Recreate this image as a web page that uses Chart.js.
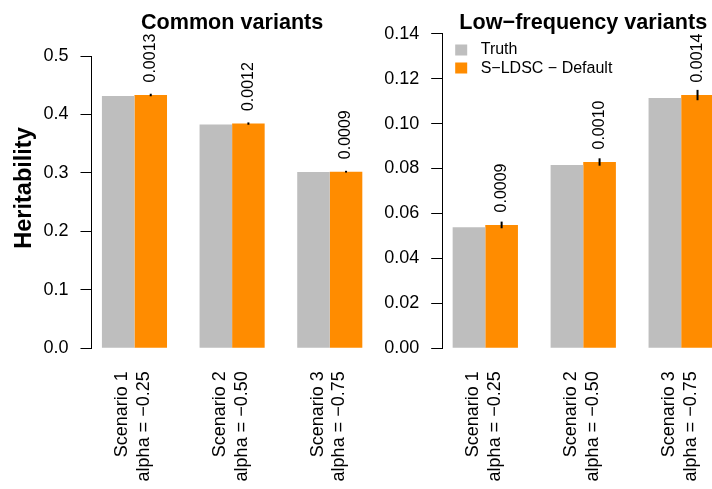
<!DOCTYPE html>
<html>
<head>
<meta charset="utf-8">
<script src="https://cdn.jsdelivr.net/npm/chart.js@4/dist/chart.umd.min.js"></script>
<style>
  html, body { margin: 0; padding: 0; background: #fff; }
  #wrap { position: relative; width: 712px; height: 489px; overflow: hidden; background: #fff; }
  canvas { position: absolute; top: 0; }
</style>
</head>
<body>
<div id="wrap">
  <canvas id="common" width="400" height="489" style="left:0px"></canvas>
  <canvas id="lowfreq" width="400" height="489" style="left:360px"></canvas>
</div>
<script>
// Scenario labels (two lines each) and series names
const scenarios = [
  ['Scenario 1', 'alpha = \u22120.25'],
  ['Scenario 2', 'alpha = \u22120.50'],
  ['Scenario 3', 'alpha = \u22120.75']
];
const seriesNames = ['Truth', 'S\u2212LDSC \u2212 Default'];

// Common variants: true heritability, S-LDSC estimate and its standard error
const commonTruth    = [0.4316, 0.3827, 0.3016];
const commonEstimate = [0.4333, 0.3844, 0.3021];
const commonSE       = [0.0013, 0.0012, 0.0009];

// Low-frequency variants
const lowTruth    = [0.0539, 0.0816, 0.1114];
const lowEstimate = [0.0549, 0.0829, 0.1127];
const lowSE       = [0.0009, 0.0010, 0.0014];

// Axis ticks
const commonTicks      = [0, 0.1, 0.2, 0.3, 0.4, 0.5];
const commonTickLabels = ['0.0', '0.1', '0.2', '0.3', '0.4', '0.5'];
const lowTicks         = [0, 0.02, 0.04, 0.06, 0.08, 0.10, 0.12, 0.14];
const lowTickLabels    = ['0.00', '0.02', '0.04', '0.06', '0.08', '0.10', '0.12', '0.14'];

const GREY = '#BEBEBE';
const ORANGE = '#FF8C00';
const FONT = '"Liberation Sans", Arial, Helvetica, sans-serif';
const Z = 1.645;            // half-width of the interval, in standard errors
const CANVAS_H = 489;
const AXIS_BOTTOM = 348.3;  // pixel row of the zero line

Chart.defaults.font.family = FONT;
Chart.defaults.color = '#000';

// barplot-style layout: each group = one unit of space + two unit-wide bars
const groupCenter = i => 2 + 3 * i;

const panelExtras = {
  id: 'panelExtras',
  afterDatasetsDraw(chart, args, o) {
    const ctx = chart.ctx;
    const ys = chart.scales.y;
    const meta = chart.getDatasetMeta(1);
    const area = chart.chartArea;
    ctx.save();
    // error bars and standard-error labels on the estimate bars
    o.estimate.forEach((est, i) => {
      const bar = meta.data[i];
      const se = o.se[i];
      ctx.strokeStyle = '#000';
      ctx.lineWidth = 2;
      ctx.lineCap = 'butt';
      ctx.beginPath();
      ctx.moveTo(bar.x, ys.getPixelForValue(est - Z * se));
      ctx.lineTo(bar.x, ys.getPixelForValue(est + Z * se));
      ctx.stroke();

      ctx.save();
      ctx.translate(bar.x, ys.getPixelForValue(est) - 12.5);
      ctx.rotate(-Math.PI / 2);
      ctx.font = '16px ' + FONT;
      ctx.fillStyle = '#000';
      ctx.textAlign = 'left';
      ctx.textBaseline = 'middle';
      ctx.fillText(se.toFixed(4), 0, 0);
      ctx.restore();
    });

    // panel title
    ctx.font = 'bold 21.6px ' + FONT;
    ctx.fillStyle = '#000';
    ctx.textAlign = 'center';
    ctx.textBaseline = 'alphabetic';
    ctx.fillText(o.title, (area.left + area.right) / 2, 28.5);

    // y-axis title
    if (o.yTitle) {
      ctx.save();
      ctx.translate(24.5, 188);
      ctx.rotate(-Math.PI / 2);
      ctx.font = 'bold 23.5px ' + FONT;
      ctx.textAlign = 'center';
      ctx.textBaseline = 'middle';
      ctx.fillText(o.yTitle, 0, 0);
      ctx.restore();
    }

    // legend
    if (o.legend) {
      const colors = [GREY, ORANGE];
      const rows = [50, 68];
      const textRows = [49.3, 68.7];
      ctx.font = '16px ' + FONT;
      ctx.textAlign = 'left';
      ctx.textBaseline = 'middle';
      seriesNames.forEach((name, k) => {
        ctx.fillStyle = colors[k];
        ctx.fillRect(area.left + 13, rows[k] - 5.5, 12, 11);
        ctx.fillStyle = '#000';
        ctx.fillText(name, area.left + 38.5, textRows[k]);
      });
    }
    ctx.restore();
  }
};

function makePanel(id, p) {
  return new Chart(document.getElementById(id), {
    type: 'bar',
    data: {
      datasets: [
        {
          label: seriesNames[0],
          data: p.truth.map((v, i) => ({ x: groupCenter(i), y: v })),
          backgroundColor: GREY,
          borderWidth: 0,
          categoryPercentage: 2 / 3,
          barPercentage: 1
        },
        {
          label: seriesNames[1],
          data: p.estimate.map((v, i) => ({ x: groupCenter(i), y: v })),
          backgroundColor: ORANGE,
          borderWidth: 0,
          categoryPercentage: 2 / 3,
          barPercentage: 1
        }
      ]
    },
    options: {
      responsive: false,
      animation: false,
      devicePixelRatio: 1,
      layout: { padding: { left: 0, right: p.padRight, top: p.padTop, bottom: 0 } },
      scales: {
        x: {
          type: 'linear',
          min: 0.68,
          max: 9.32,
          offset: false,
          grid: { display: false, drawTicks: false },
          border: { display: false },
          afterBuildTicks: s => { s.ticks = scenarios.map((_, i) => ({ value: groupCenter(i) })); },
          afterFit: s => { s.height = CANVAS_H - AXIS_BOTTOM; },
          ticks: {
            autoSkip: false,
            minRotation: 90,
            maxRotation: 90,
            padding: 23,
            labelOffset: -12,
            color: '#000',
            font: { size: 18, lineHeight: 1.2 },
            callback: (v, i) => scenarios[i]
          }
        },
        y: {
          min: 0,
          max: p.ticks[p.ticks.length - 1],
          afterBuildTicks: s => { s.ticks = p.ticks.map(v => ({ value: v })); },
          afterFit: s => { s.width = p.axisWidth; },
          grid: { drawOnChartArea: false, drawTicks: true, tickLength: 11, color: '#000', lineWidth: 1 },
          border: { display: true, color: '#000', width: 1 },
          ticks: {
            padding: 12,
            color: '#000',
            font: { size: 18 },
            callback: (v, i) => p.tickLabels[i]
          }
        }
      },
      plugins: {
        legend: { display: false },
        tooltip: { enabled: false },
        panelExtras: {
          estimate: p.estimate,
          se: p.se,
          title: p.title,
          yTitle: p.yTitle,
          legend: p.legend
        }
      }
    },
    plugins: [panelExtras]
  });
}

makePanel('common', {
  truth: commonTruth, estimate: commonEstimate, se: commonSE,
  ticks: commonTicks, tickLabels: commonTickLabels,
  title: 'Common variants', yTitle: 'Heritability', legend: false,
  axisWidth: 91.5, padTop: 56, padRight: 400 - 373.6
});

makePanel('lowfreq', {
  truth: lowTruth, estimate: lowEstimate, se: lowSE,
  ticks: lowTicks, tickLabels: lowTickLabels,
  title: 'Low\u2212frequency variants', yTitle: null, legend: true,
  axisWidth: 82.2, padTop: 33.7, padRight: 400 - 364.3
});
</script>
</body>
</html>
